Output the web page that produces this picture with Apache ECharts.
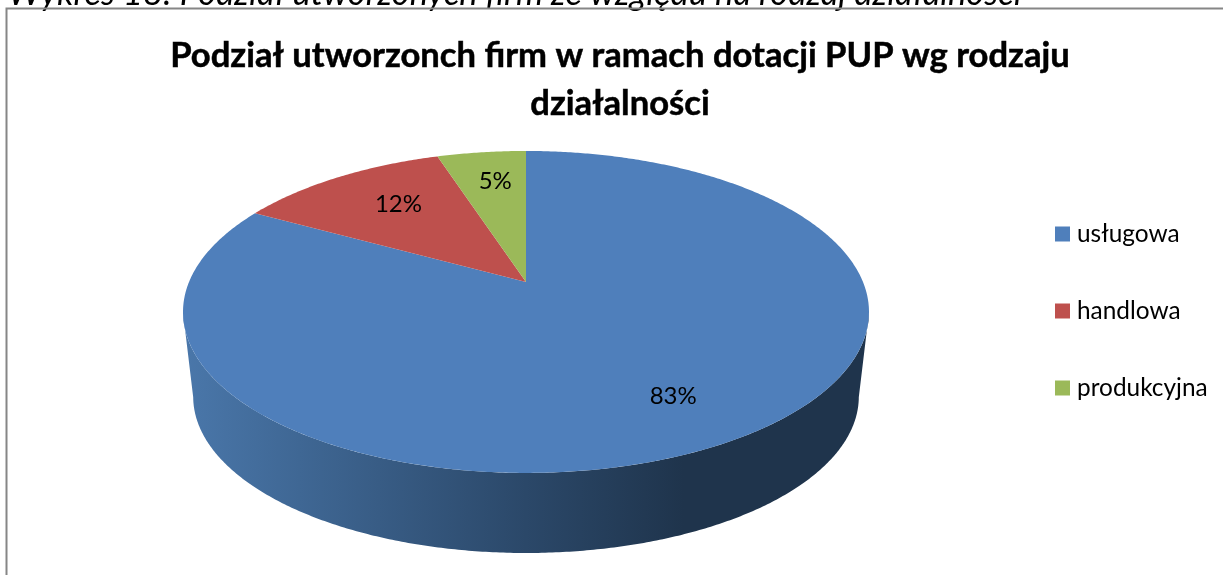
<!DOCTYPE html>
<html>
<head>
<meta charset="utf-8">
<style>
  html, body { margin: 0; padding: 0; background: #fff; }
  #chart { width: 1223px; height: 575px; }
</style>
<script src="https://cdn.jsdelivr.net/npm/echarts@6/dist/echarts.min.js"></script>
</head>
<body>
<div id="chart"></div>
<script>
const categories = ['usługowa', 'handlowa', 'produkcyjna']
const shares = [83, 12, 5]
const sliceColors = ['#4f7fbb', '#be504d', '#9bb959']

const FONT = 'Lato'
const total = shares.reduce((a, b) => a + b, 0)

// tilted disc: top face and bottom rim, k gives the perspective
const k = -0.186
const topFace = { x: 526, y: 282, a: 337, b: 155.4 }
const bottomRim = { x: 526, y: 367.6, a: 327, b: 150.9 }
const labelRadius = [0.75, 0.66, 0.75]
const labelNudge = [[1, 0], [2, -6], [4, 0]]

// angle is clockwise from 12 o'clock, r is 0..1 on the disc
function project(face, angle, r) {
  const u = r * Math.sin(angle)
  const v = -r * Math.cos(angle)
  const w = 1 + k * v
  return [face.x + face.a * u / w, face.y + face.b * v / w]
}

function arcPoints(face, from, to) {
  const pts = []
  const steps = Math.max(2, Math.ceil(Math.abs(to - from) / (Math.PI / 360)))
  for (let i = 0; i <= steps; i++) {
    pts.push(project(face, from + (to - from) * i / steps, 1))
  }
  return pts
}

// slices start at 12 o'clock and go clockwise
function sliceRange(index) {
  let before = 0
  for (let i = 0; i < index; i++) before += shares[i]
  return [before / total * Math.PI * 2, (before + shares[index]) / total * Math.PI * 2]
}

function renderSide() {
  // visible wall only: from the widest right point round the front to the widest left
  const start = Math.PI / 2 + 0.19
  const end = Math.PI * 1.5 - 0.19
  const pts = arcPoints(topFace, start, end).concat(arcPoints(bottomRim, end, start))
  return {
    type: 'polygon',
    shape: { points: pts },
    style: {
      fill: new echarts.graphic.LinearGradient(183, 0, 869, 0, [
        { offset: 0, color: '#4a77aa' },
        { offset: 0.17, color: '#3f6794' },
        { offset: 0.5, color: '#2b4869' },
        { offset: 0.73, color: '#1f344c' },
        { offset: 1, color: '#1f344c' }
      ], true)
    }
  }
}

function renderSlice(index) {
  return function () {
    const range = sliceRange(index)
    const pts = [[topFace.x, topFace.y]].concat(arcPoints(topFace, range[0], range[1]))
    const mid = (range[0] + range[1]) / 2
    const pos = project(topFace, mid, labelRadius[index])
    return {
      type: 'group',
      children: [{
        type: 'polygon',
        shape: { points: pts },
        style: { fill: sliceColors[index] }
      }, {
        type: 'text',
        x: pos[0] + labelNudge[index][0],
        y: pos[1] + labelNudge[index][1],
        z2: 10,
        style: {
          text: shares[index] + '%',
          font: '24px ' + FONT,
          fill: '#000',
          align: 'center',
          verticalAlign: 'middle'
        }
      }]
    }
  }
}

const series = [{
  type: 'custom',
  name: 'side',
  coordinateSystem: 'none',
  silent: true,
  data: [total],
  renderItem: renderSide
}]
categories.forEach((name, i) => {
  series.push({
    type: 'custom',
    name: name,
    coordinateSystem: 'none',
    silent: true,
    itemStyle: { color: sliceColors[i] },
    data: [shares[i]],
    renderItem: renderSlice(i)
  })
})

const option = {
  animation: false,
  backgroundColor: '#fff',
  title: {
    text: 'Podział utworzonch firm w ramach dotacji PUP wg rodzaju\ndziałalności',
    left: 615,
    top: 27,
    textAlign: 'center',
    textStyle: {
      fontFamily: FONT,
      fontSize: 34.6,
      fontWeight: 'bold',
      color: '#000',
      lineHeight: 48,
      textBorderColor: '#000',
      textBorderWidth: 0.5
    }
  },
  legend: {
    data: categories,
    orient: 'vertical',
    left: 1050,
    top: 217,
    icon: 'rect',
    itemWidth: 15,
    itemHeight: 15,
    itemGap: 53,
    selectedMode: false,
    textStyle: {
      fontFamily: FONT,
      fontSize: 24.4,
      color: '#000',
      padding: [0, 0, 0, 2]
    }
  },
  graphic: [{
    type: 'text',
    x: 8,
    y: 11,
    style: {
      text: 'Wykres 18: Podział utworzonych firm ze względu na rodzaj działalności',
      font: 'italic 34.5px ' + FONT,
      fill: '#000',
      verticalAlign: 'bottom'
    }
  }, {
    type: 'polyline',
    shape: { points: [[6.5, 575], [6.5, 8.5], [1223, 8.5]] },
    style: { stroke: '#868686', lineWidth: 2, fill: null }
  }],
  series: series
}

const myChart = echarts.init(document.getElementById('chart'))
myChart.setOption(option)
</script>
</body>
</html>
